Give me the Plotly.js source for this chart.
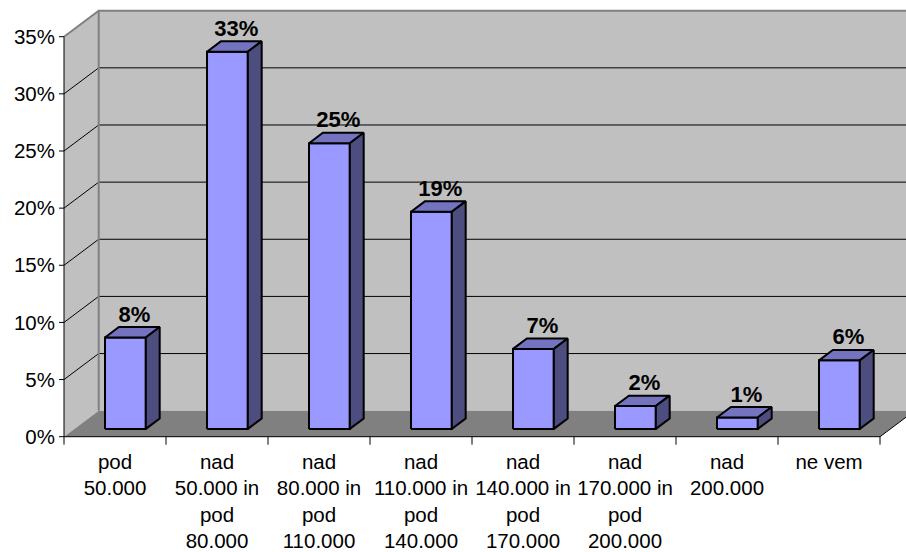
<!DOCTYPE html>
<html>
<head>
<meta charset="utf-8">
<script src="https://cdn.plot.ly/plotly-3.0.1.min.js"></script>
<style>
  html, body { margin: 0; padding: 0; background: #ffffff; overflow: hidden; }
  #chart { width: 906px; height: 552px; }
</style>
</head>
<body>
<div id="chart"></div>
<script>
// Income brackets and the share of answers in each
const categories = [
  'pod<br>50.000',
  'nad<br>50.000 in<br>pod<br>80.000',
  'nad<br>80.000 in<br>pod<br>110.000',
  'nad<br>110.000 in<br>pod<br>140.000',
  'nad<br>140.000 in<br>pod<br>170.000',
  'nad<br>170.000 in<br>pod<br>200.000',
  'nad<br>200.000',
  'ne vem'
];
const shares = [8, 33, 25, 19, 7, 2, 1, 6];
const valueLabels = ['8%', '33%', '25%', '19%', '7%', '2%', '1%', '6%'];
const yTickValues = [0, 5, 10, 15, 20, 25, 30, 35];
const yTickLabels = ['0%', '5%', '10%', '15%', '20%', '25%', '30%', '35%'];

// ---- pseudo-3D geometry (in axis units) ----
const W = 906, H = 552;
const PX_PER_CAT = 102;            // one category slot
const PX_PER_PCT = 400 / 35;       // one percentage point
const X0_PX = 64, Y0_PX = 436.7;   // front-left corner of the floor
const M = { l: 56, r: 0, t: 0, b: 105 };
const DX = 34.7 / PX_PER_CAT;      // depth of the box, horizontal
const DY = 26 / PX_PER_PCT;        // depth of the box, vertical
const YMAX = 35;
const N = categories.length;
const FRONT = 0.3, BACK = 0.7;     // depth position of the bars
const BAR_W = 0.40;

const xRange = [(M.l - X0_PX) / PX_PER_CAT, (W - M.r - X0_PX) / PX_PER_CAT];
const yRange = [(Y0_PX - (H - M.b)) / PX_PER_PCT, (Y0_PX - M.t) / PX_PER_PCT];

const traces = [];
function poly(xs, ys, fill, line, lw) {
  traces.push({
    type: 'scatter', mode: 'lines', x: xs.concat([xs[0]]), y: ys.concat([ys[0]]),
    fill: 'toself', fillcolor: fill,
    line: { color: line, width: lw }, hoverinfo: 'skip', showlegend: false
  });
}
function seg(xs, ys, color, lw) {
  traces.push({
    type: 'scatter', mode: 'lines', x: xs, y: ys,
    line: { color: color, width: lw }, hoverinfo: 'skip', showlegend: false
  });
}

// back wall
poly([DX, N + DX, N + DX, DX], [DY, DY, YMAX + DY, YMAX + DY], '#C0C0C0', 'rgba(0,0,0,0)', 0);
// side wall
poly([0, DX, DX, 0], [0, DY, YMAX + DY, YMAX], '#C0C0C0', 'rgba(0,0,0,0)', 0);
// floor
poly([0, N, N + DX, DX], [0, 0, DY, DY], '#808080', 'rgba(0,0,0,0)', 0);

// gridlines on side and back walls
yTickValues.slice(1, -1).forEach(v => {
  seg([0, DX, N + DX], [v, v + DY, v + DY], '#000000', 1);
});
// wall edges
seg([0, DX, N + DX], [YMAX, YMAX + DY, YMAX + DY], '#808080', 2);
seg([DX, DX], [DY, YMAX + DY], '#808080', 2);

// front floor edge, right floor edge and value axis line
seg([0, N, N + DX], [0, 0, DY], '#000000', 1);
seg([0, 0], [0, YMAX], '#000000', 1);

// tick marks
yTickValues.forEach(v => seg([-5 / PX_PER_CAT, 0], [v, v], '#000000', 1));
for (let i = 0; i <= N; i++) seg([i, i], [0, -8 / PX_PER_PCT], '#000000', 1);

// bars as boxes: front, top, side
const fdx = FRONT * DX, fdy = FRONT * DY;
const ddx = (BACK - FRONT) * DX, ddy = (BACK - FRONT) * DY;
const lblX = [], lblY = [];
shares.forEach((v, i) => {
  const x0 = i + 0.5 - BAR_W / 2 + fdx, x1 = x0 + BAR_W;
  const yb = fdy, yt = fdy + v;
  poly([x0, x1, x1, x0], [yb, yb, yt, yt], '#9999FF', '#000000', 2);
  poly([x0, x1, x1 + ddx, x0 + ddx], [yt, yt, yt + ddy, yt + ddy], '#7373BF', '#000000', 2);
  poly([x1, x1 + ddx, x1 + ddx, x1], [yb, yb + ddy, yt + ddy, yt], '#4D4D80', '#000000', 2);
  lblX.push(i + 0.5 + fdx + ddx / 2 + 2 / PX_PER_CAT);
  lblY.push(yt + ddy + 11 / PX_PER_PCT);
});

traces.push({
  type: 'scatter', mode: 'text', x: lblX, y: lblY, text: valueLabels,
  textposition: 'middle center', cliponaxis: false,
  textfont: { family: 'Liberation Sans, Arial, sans-serif', size: 22, color: '#000000', weight: 'bold' },
  hoverinfo: 'skip', showlegend: false
});

const layout = {
  width: W, height: H,
  margin: M,
  paper_bgcolor: '#ffffff', plot_bgcolor: 'rgba(0,0,0,0)',
  showlegend: false,
  font: { family: 'Liberation Sans, Arial, sans-serif', size: 20.5, color: '#000000' },
  xaxis: {
    range: xRange, showgrid: false, zeroline: false, showline: false, ticks: '',
    tickmode: 'array', tickvals: categories.map((c, i) => i + 0.5), ticktext: categories,
    tickangle: 0, fixedrange: true
  },
  yaxis: {
    range: yRange, showgrid: false, zeroline: false, showline: false, ticks: '',
    tickmode: 'array', tickvals: yTickValues, ticktext: yTickLabels, fixedrange: true
  }
};

Plotly.newPlot('chart', traces, layout, { staticPlot: true, displayModeBar: false });
</script>
</body>
</html>
